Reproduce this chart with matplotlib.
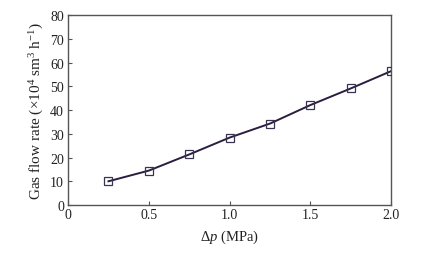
import matplotlib
matplotlib.use("Agg")
import matplotlib.pyplot as plt

# pressure drop (MPa) and gas flow rate (x10^4 sm3/h)
delta_p = [0.25, 0.5, 0.75, 1.0, 1.25, 1.5, 1.75, 2.0]
flow_rate = [10.0, 14.5, 21.3, 28.4, 34.3, 42.1, 49.1, 56.4]

x_ticks = [0, 0.5, 1.0, 1.5, 2.0]
x_tick_labels = ["0", "0.5", "1.0", "1.5", "2.0"]
y_ticks = [0, 10, 20, 30, 40, 50, 60, 70, 80]

plt.rcParams['font.family'] = ['Liberation Serif', 'DejaVu Serif']
plt.rcParams['mathtext.fontset'] = 'custom'
plt.rcParams['mathtext.it'] = 'Liberation Serif:italic'
plt.rcParams['mathtext.rm'] = 'Liberation Serif'

fig = plt.figure(figsize=(4.39, 2.55), dpi=100)
ax = fig.add_axes([0.155, 0.192, 0.736, 0.745])

ax.plot(delta_p, flow_rate, color='#2b1d3f', linewidth=1.4, zorder=2)
ax.plot(delta_p, flow_rate, linestyle='none', marker='s', markersize=5.5,
        markerfacecolor='none', markeredgecolor='#3a3350', markeredgewidth=0.9, zorder=3)

ax.set_xlim(0, 2.0)
ax.set_ylim(0, 80)
ax.set_xticks(x_ticks)
ax.set_xticklabels(x_tick_labels)
ax.set_yticks(y_ticks)

ax.tick_params(axis='both', direction='in', length=3, width=0.8, color='#555555',
               labelsize=10, labelcolor='#222222')
ax.tick_params(axis='x', pad=2)
ax.tick_params(axis='y', pad=3)

for spine in ax.spines.values():
    spine.set_color('#555555')
    spine.set_linewidth(1.0)

ax.set_xlabel(r'$\Delta p$ (MPa)', fontsize=10.5, color='#222222', labelpad=5)
ax.set_ylabel('Gas flow rate (×10$^4$ sm$^3$ h$^{-1}$)', fontsize=11,
              color='#222222', labelpad=3)

fig.savefig('out.png', dpi=100)
